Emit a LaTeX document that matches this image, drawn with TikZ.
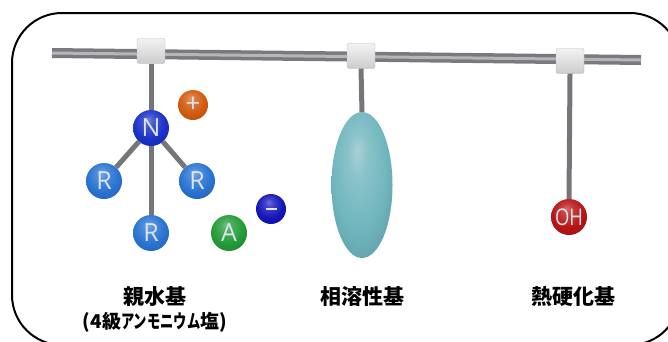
\documentclass[tikz,border=0pt]{standalone}
\usepackage{fontspec}
\setsansfont{Open Sans}
\newfontfamily\cjk{Noto Sans CJK JP}
\newfontfamily\cjknarrow{Noto Sans CJK JP}[FakeStretch=0.7]
\newfontfamily\narrowsf{Open Sans}[FakeStretch=0.8]
\usepackage{tikz}
\usetikzlibrary{shapes.geometric}

\definecolor{rodgray}{RGB}{122,122,126}
\definecolor{rodlight}{RGB}{182,182,186}
\definecolor{stemgray}{RGB}{118,118,122}
\definecolor{nblue}{RGB}{25,50,200}
\definecolor{rblue}{RGB}{40,115,210}
\definecolor{plusorange}{RGB}{210,90,15}
\definecolor{minusblue}{RGB}{20,20,185}
\definecolor{agreen}{RGB}{35,155,55}
\definecolor{ohred}{RGB}{185,20,20}
\definecolor{teal}{RGB}{112,182,190}
\definecolor{atomtext}{RGB}{220,228,238}

% 柔和的球体着色
\colorlet{ballc}{gray}
\pgfdeclareradialshading[ballc]{softball}{\pgfpoint{-4bp}{12bp}}{%
  color(0bp)=(ballc!62!white); color(8bp)=(ballc!82!white);
  color(22bp)=(ballc); color(38bp)=(ballc!82!black);
  color(50bp)=(ballc!55!black)}

\begin{document}
\begin{tikzpicture}[
    x=1pt, y=-1pt,
    % 主链
    rod/.style={line width=10pt, color=rodgray},
    rodhl/.style={line width=3pt, color=rodlight},
    % 连接块
    joint/.style={rectangle, rounded corners=2pt, minimum width=28pt, minimum height=25pt,
        top color=gray!10, bottom color=gray!40, draw=gray!55},
    % 侧链
    stem/.style={line width=5pt, color=stemgray},
    % 原子球
    softball/.style={/utils/exec={\colorlet{ballc}{#1}}, shading=softball},
    atom/.style={circle, minimum size=36pt, inner sep=0pt, softball=#1, text=atomtext,
        font=\sffamily\fontsize{25}{25}\selectfont},
    ion/.style={circle, minimum size=30pt, inner sep=0pt, softball=#1, text=atomtext,
        font=\sffamily\fontsize{26}{26}\selectfont},
    grouplabel/.style={font=\cjk\bfseries\fontsize{21}{24}\selectfont, inner sep=0pt}
]

\useasboundingbox (0,0) rectangle (668,341);
\clip (0,0) rectangle (668,341);

% 外框
\draw[line width=2pt, rounded corners=50pt] (12,13) rectangle (680,345);

% 主链
\coordinate (rodl) at (52,53);
\coordinate (rodr) at (641,60);
\draw[rod] (rodl) -- (rodr);
\draw[rodhl, shift={(0,-1.5)}] (rodl) -- (rodr);

\node[joint] (j1) at (151,51) {};
\node[joint] (j2) at (361,56) {};
\node[joint] (j3) at (570,61) {};

% 亲水基
\node[atom=nblue] (n) at (151,128) {N};
\node[atom=rblue] (rl) at (104,181) {R};
\node[atom=rblue] (rr) at (197,181) {R};
\node[atom=rblue] (rb) at (151,233) {R};
\draw[stem] (j1.south) -- (n.north);
\draw[stem] (n) -- (rl);
\draw[stem] (n) -- (rr);
\draw[stem] (n) -- (rb);
\node[ion=plusorange] (plus) at (193,105) {+};
\node[atom=agreen] (a) at (229,233) {A};
\node[ion=minusblue] (minus) at (271,209) {\rule{11pt}{2.6pt}};

% 相溶性基
\node[ellipse, minimum width=61pt, minimum height=146pt, softball=teal] (e) at (362,185) {};
\draw[stem] (j2.south) -- (e.north);

% 热固化基
\node[atom=ohred, font=\narrowsf\fontsize{23}{23}\selectfont] (oh) at (569,217) {OH};
\draw[stem] (j3.south) -- (oh.north);

% 标签
\node[grouplabel] (t1) at (155,297) {親水基};
\node[grouplabel, font=\cjk\bfseries\fontsize{19}{20}\selectfont] (t1b) at (155,322)
    {(4級{\cjknarrow\bfseries アンモニウム}塩)};
\node[grouplabel] (t2) at (362,297) {相溶性基};
\node[grouplabel] (t3) at (573,297) {熱硬化基};

\end{tikzpicture}
\end{document}
